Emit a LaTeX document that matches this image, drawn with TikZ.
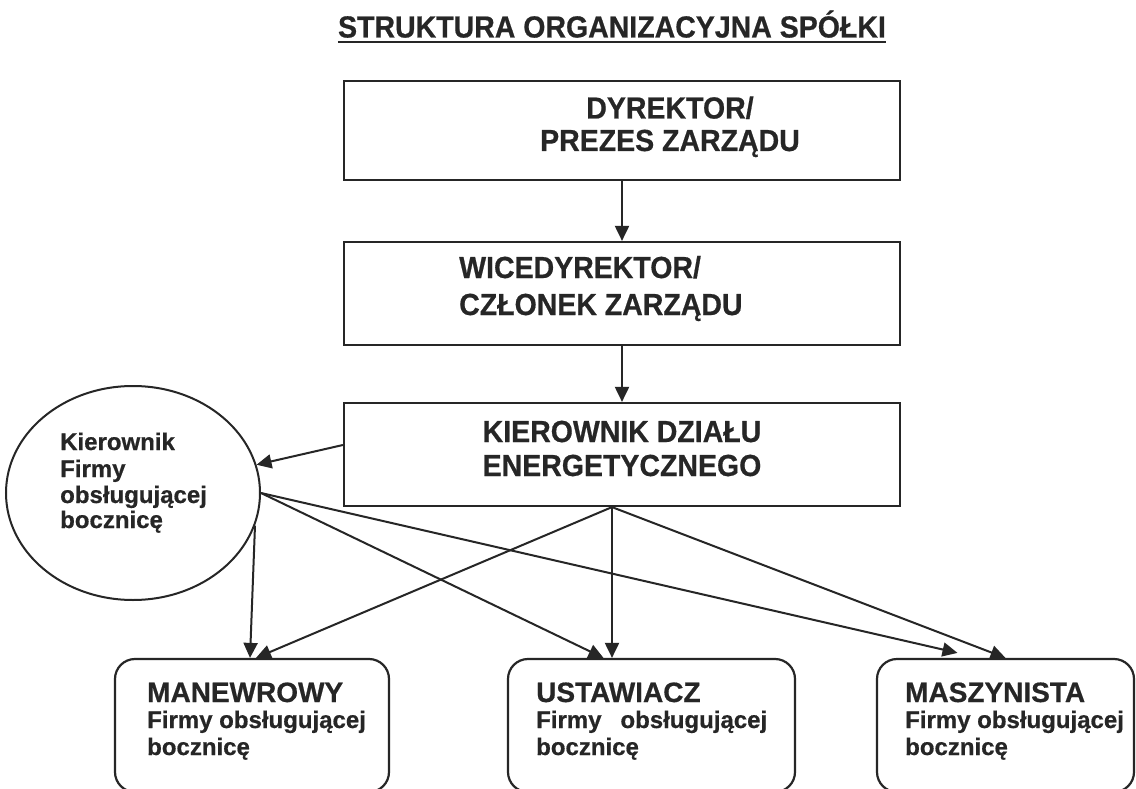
\documentclass[tikz,border=0pt]{standalone}
\usepackage{fontspec}
\setmainfont{Liberation Sans}[BoldFeatures={FakeBold=0.6}]
\usetikzlibrary{arrows.meta,shapes.geometric,calc}
\definecolor{ink}{HTML}{262626}
\newcommand{\vstr}[1]{\scalebox{1}[1.07]{#1}}
\begin{document}
\begin{tikzpicture}[x=1pt,y=-1pt,
  box/.style={draw=ink,line width=2.2pt,inner sep=0pt,minimum width=556pt},
  rbox/.style={draw=ink,line width=2.2pt,inner sep=0pt,rounded corners=20pt,minimum height=133pt},
  big/.style={text=ink,inner sep=0pt,font=\fontsize{28.5}{34}\selectfont\bfseries},
  mid/.style={text=ink,inner sep=0pt,font=\fontsize{28}{32}\selectfont\bfseries},
  small/.style={text=ink,inner sep=0pt,font=\fontsize{24}{27}\selectfont\bfseries},
  arr/.style={draw=ink,line width=2pt,-{Triangle[length=15pt,width=14pt]}}]
\useasboundingbox (0,0) rectangle (1136,789);
\fill[white] (0,0) rectangle (1136,789);

% title
\node[big,anchor=base] (title) at (612,37.5) {\vstr{STRUKTURA ORGANIZACYJNA SPÓŁKI}};
\draw[ink,line width=2.6pt] ([yshift=-4.5pt]title.base west) -- ([yshift=-4.5pt]title.base east);

% main boxes
\node[box,minimum height=99pt] (d1) at (622,130.5) {};
\node[box,minimum height=103pt] (d2) at (622,293.5) {};
\node[box,minimum height=103pt] (d3) at (622,454.5) {};

\node[big,anchor=base] (d1a) at (670,118.5) {\vstr{DYREKTOR/}};
\node[big,anchor=base] (d1b) at (670,151) {\vstr{PREZES ZARZĄDU}};
\node[big,anchor=base west] (d2a) at (459,278) {\vstr{WICEDYREKTOR/}};
\node[big,anchor=base west] (d2b) at (459,315) {\vstr{CZŁONEK ZARZĄDU}};
\node[big,anchor=base] (d3a) at (622,442) {\vstr{KIEROWNIK DZIAŁU}};
\node[big,anchor=base] (d3b) at (622,476) {\vstr{ENERGETYCZNEGO}};

% ellipse
\node[draw=ink,line width=2pt,ellipse,inner sep=0pt,minimum width=254pt,minimum height=214pt] (kf) at (133,493) {};
\node[small,anchor=base west] (kf1) at (60,450) {Kierownik};
\node[small,anchor=base west] (kf2) at (60,477) {Firmy};
\node[small,anchor=base west] (kf3) at (60,503) {obsługującej};
\node[small,anchor=base west] (kf4) at (60,528) {bocznicę};

% bottom boxes
\node[rbox,minimum width=274pt] (m) at (252,725.5) {};
\node[rbox,minimum width=287pt] (u) at (651.5,725.5) {};
\node[rbox,minimum width=257pt] (s) at (1005.5,725.5) {};

\node[mid,anchor=base west] (m1) at (147,702) {MANEWROWY};
\node[small,anchor=base west] (m2) at (147,728) {Firmy obsługującej};
\node[small,anchor=base west] (m3) at (147,755) {bocznicę};

\node[mid,anchor=base west] (u1) at (536,702) {USTAWIACZ};
\node[small,anchor=base west] (u2) at (536,728) {\hbox to 231pt{Firmy\hfill obsługującej}};
\node[small,anchor=base west] (u3) at (536,755) {bocznicę};

\node[mid,anchor=base west] (s1) at (905,702) {MASZYNISTA};
\node[small,anchor=base west] (s2) at (905,728) {Firmy obsługującej};
\node[small,anchor=base west] (s3) at (905,755) {bocznicę};

% connectors
\draw[arr] (d1) -- (d2);
\draw[arr] (d2) -- (d3);
\draw[arr] (d3.west |- 0,445) -- (kf);
\coordinate (ap) at ([xshift=-10pt]d3.south);
\draw[arr] (ap) -- ([xshift=4pt]m.north);
\draw[arr] (ap) -- (ap |- u.north);
\draw[arr] (ap) -- (s.north);
\draw[arr] (kf.-15) -- ([xshift=-2pt]m.north);
\draw[arr] (kf.east) -- ([xshift=-48pt]u.north);
\draw[arr] (kf.east) -- ([xshift=-48pt,yshift=5pt]s.north);
\end{tikzpicture}
\end{document}
